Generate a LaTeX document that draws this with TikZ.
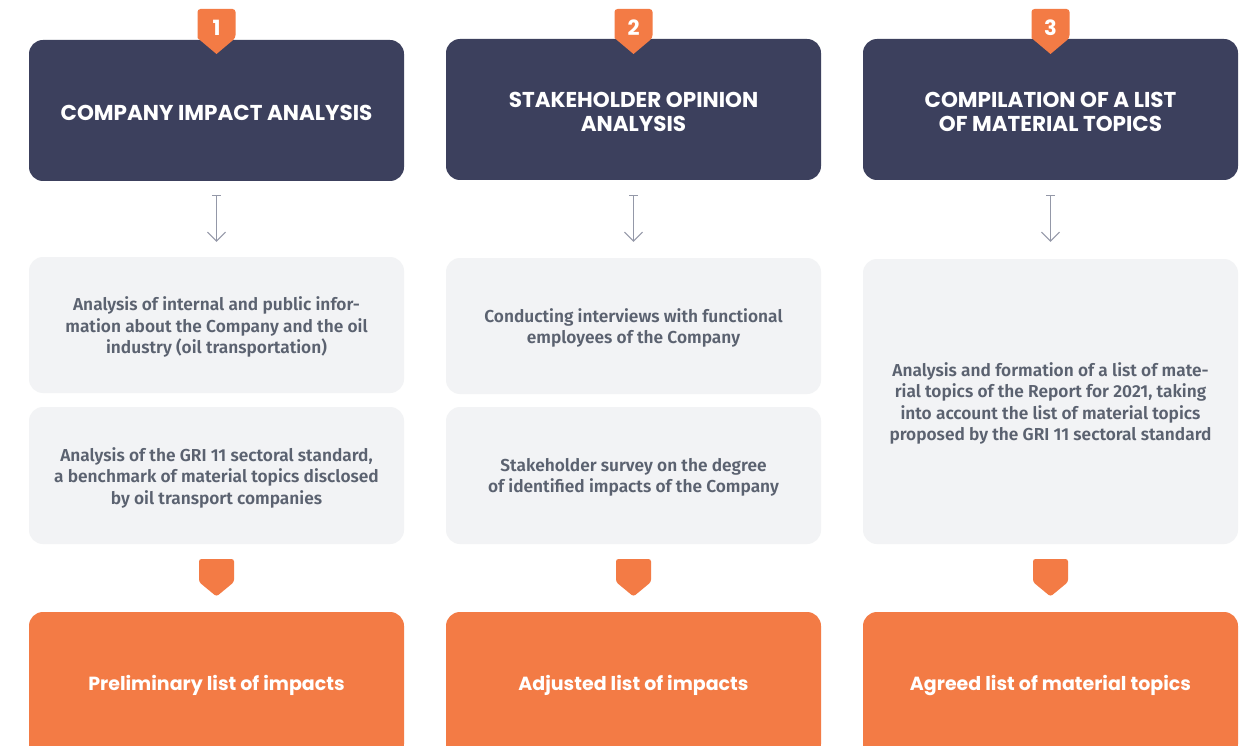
\documentclass[tikz,border=0pt]{standalone}
\usepackage{fontspec}
\setmainfont{Fira Sans}
\newfontfamily\headfont{Poppins}[UprightFont=* Bold]
\newfontfamily\bodyfont{Fira Sans SemiBold}
\usetikzlibrary{arrows.meta}
\definecolor{darkbox}{HTML}{3C405D}
\definecolor{orng}{HTML}{F37B45}
\definecolor{lightbox}{HTML}{F2F3F5}
\definecolor{bodytxt}{HTML}{5B6270}
\definecolor{arrgray}{HTML}{9498A8}
\tikzset{
  headbox/.style={fill=darkbox, rounded corners=14pt, minimum width=375pt, minimum height=141pt, inner sep=0pt},
  headtxt/.style={text=white, align=center, inner sep=0pt, font=\headfont\fontsize{21.5}{24}\selectfont},
  infobox/.style={fill=lightbox, rounded corners=14pt, minimum width=375pt, inner sep=0pt},
  infotxt/.style={text=bodytxt, align=center, inner sep=0pt, font=\bodyfont\fontsize{17.3}{21.5}\selectfont},
  resbox/.style={fill=orng, rounded corners=14pt, minimum width=375pt, minimum height=146pt, inner sep=0pt,
    text=white, align=center, font=\headfont\fontsize{19}{22}\selectfont},
  badge/.style={fill=orng, rounded corners=3pt},
  badgenum/.style={text=white, font=\headfont\fontsize{21}{24}\selectfont, inner sep=0pt},
  chev/.style={fill=orng, rounded corners=2.5pt},
  flowarr/.style={draw=arrgray, line width=1pt, {Bar[width=9pt,line width=1pt]}-{Straight Barb[length=9pt,width=18pt,line width=1pt]}},
}
\begin{document}
\begin{tikzpicture}[x=1pt,y=-1pt]
\useasboundingbox (0,0) rectangle (1242,746);
\clip (0,0) rectangle (1242,746);
\fill[white] (0,0) rectangle (1242,746);

% ---- dark heading boxes
\node[headbox] (h1) at (216.5,110.5) {};
\node[headbox] (h2) at (633.5,109.5) {};
\node[headbox] (h3) at (1050.5,109.5) {};
\node[headtxt] (ht1) at ([yshift=-2pt]h1.center) {COMPANY IMPACT ANALYSIS};
\node[headtxt] (ht2) at ([yshift=-2pt]h2.center) {STAKEHOLDER OPINION\\ANALYSIS};
\node[headtxt] (ht3) at ([yshift=-2pt]h3.center) {COMPILATION OF A LIST\\OF MATERIAL TOPICS};

% ---- badges
\foreach \cx/\n in {216.5/1,633.5/2,1050.5/3}{
  \fill[badge] (\cx-19,38) -- (\cx-19,9) -- (\cx+19,9) -- (\cx+19,38) [sharp corners] -- (\cx,54) -- cycle;
  \node[badgenum] (b\n) at (\cx,28) {\n};
}

% ---- light info boxes
\node[infobox, minimum height=136pt] (a1) at (216.5,325) {};
\node[infobox, minimum height=137pt] (c1) at (216.5,475.5) {};
\node[infobox, minimum height=136pt] (a2) at (633.5,326) {};
\node[infobox, minimum height=137pt] (c2) at (633.5,475.5) {};
\node[infobox, minimum height=285pt] (a3) at (1050.5,401.5) {};
\node[infotxt] (at1) at ([yshift=-2pt]a1.center) {Analysis of internal and public infor-\\mation about the Company and the oil\\industry (oil transportation)};
\node[infotxt] (ct1) at ([yshift=-2pt]c1.center) {Analysis of the GRI 11 sectoral standard,\\a benchmark of material topics disclosed\\by oil transport companies};
\node[infotxt] (at2) at ([yshift=-2pt]a2.center) {Conducting interviews with functional\\employees of the Company};
\node[infotxt] (ct2) at ([yshift=-2pt]c2.center) {Stakeholder survey on the degree\\of identified impacts of the Company};
\node[infotxt] (at3) at ([yshift=-2pt]a3.center) {Analysis and formation of a list of mate-\\rial topics of the Report for 2021, taking\\into account the list of material topics\\proposed by the GRI 11 sectoral standard};

% ---- thin arrows
\draw[flowarr] ([yshift=-14pt]h1.south) -- ([yshift=15pt]a1.north);
\draw[flowarr] ([yshift=-15pt]h2.south) -- ([yshift=16pt]a2.north);
\draw[flowarr] ([yshift=-15pt]h3.south) -- ([yshift=17pt]a3.north);

% ---- orange chevrons
\foreach \cx in {216.5,633.5,1050.5}{
  \fill[chev] (\cx-17.5,582) -- (\cx-17.5,559) -- (\cx+17.5,559) -- (\cx+17.5,582) -- (\cx,596.5) -- cycle;
}

% ---- result boxes
\node[resbox] (r1) at (216.5,685) {Preliminary list of impacts};
\node[resbox] (r2) at (633.5,685) {Adjusted list of impacts};
\node[resbox] (r3) at (1050.5,685) {Agreed list of material topics};
\end{tikzpicture}
\end{document}
